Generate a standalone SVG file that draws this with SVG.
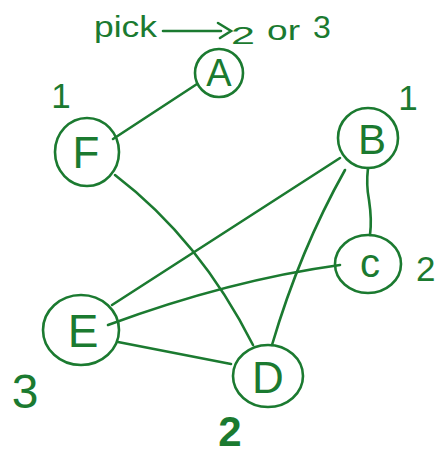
<svg xmlns="http://www.w3.org/2000/svg" width="437" height="457" viewBox="0 0 437 457">
<style>
.n{fill:none;stroke:#1b7a30;stroke-width:2.6}
.e{fill:none;stroke:#1b7a30;stroke-width:2.6;stroke-linecap:round}
.l{font-family:"Liberation Sans",Arial,sans-serif;fill:#1b7a30;text-anchor:middle}
.t{font-family:"Liberation Sans",Arial,sans-serif;fill:#1b7a30}
</style>
<rect width="437" height="457" fill="#ffffff"/>
<g id="connectors">
<path class="e" d="M197,84 L113,139"/>
<path class="e" d="M115,175 Q200,240 253,345"/>
<path class="e" d="M340,158 L112,305"/>
<path class="e" d="M345,170 Q300,250 272,345"/>
<path class="e" d="M368,168 Q366,185 369,200 Q372,220 370,235"/>
<path class="e" d="M340,265 Q230,280 108,325"/>
<path class="e" d="M118,342 L231,364"/>
</g>
<g id="node-A"><ellipse class="n" cx="219" cy="73" rx="24" ry="24"/><text class="l" x="219" y="86" font-size="38">A</text></g>
<g id="node-F"><ellipse class="n" cx="87" cy="152" rx="32" ry="34"/><text class="l" x="86" y="168" font-size="44">F</text></g>
<g id="node-B"><ellipse class="n" cx="368" cy="138" rx="30" ry="30"/><text class="l" x="372" y="154" font-size="42">B</text></g>
<g id="node-C"><ellipse class="n" cx="368" cy="264" rx="33" ry="29"/><text class="l" x="370" y="277" font-size="40">c</text></g>
<g id="node-E"><ellipse class="n" cx="81" cy="330" rx="38" ry="35"/><text class="l" x="83" y="347" font-size="46">E</text></g>
<g id="node-D"><ellipse class="n" cx="268" cy="376" rx="35" ry="31"/><text class="l" x="268" y="393" font-size="44">D</text></g>
<g id="labels">
<text class="t" x="94" y="37" font-size="30" textLength="63" lengthAdjust="spacingAndGlyphs">pick</text>
<path class="e" d="M163,31 L221,31 M218,23 L231,31 L220,38"/>
<text class="t" x="231" y="44" font-size="24" textLength="24" lengthAdjust="spacingAndGlyphs">2</text>
<text class="t" x="267" y="40" font-size="28" textLength="33" lengthAdjust="spacingAndGlyphs">or</text>
<text class="t" x="313" y="38" font-size="32">3</text>
<text class="l" x="61" y="108" font-size="35">1</text>
<text class="l" x="408" y="110" font-size="35">1</text>
<text class="t" x="416" y="281" font-size="35">2</text>
<text class="l" x="25" y="408" font-size="48">3</text>
<text class="l" x="230" y="446" font-size="42" font-weight="bold">2</text>
</g>
</svg>
